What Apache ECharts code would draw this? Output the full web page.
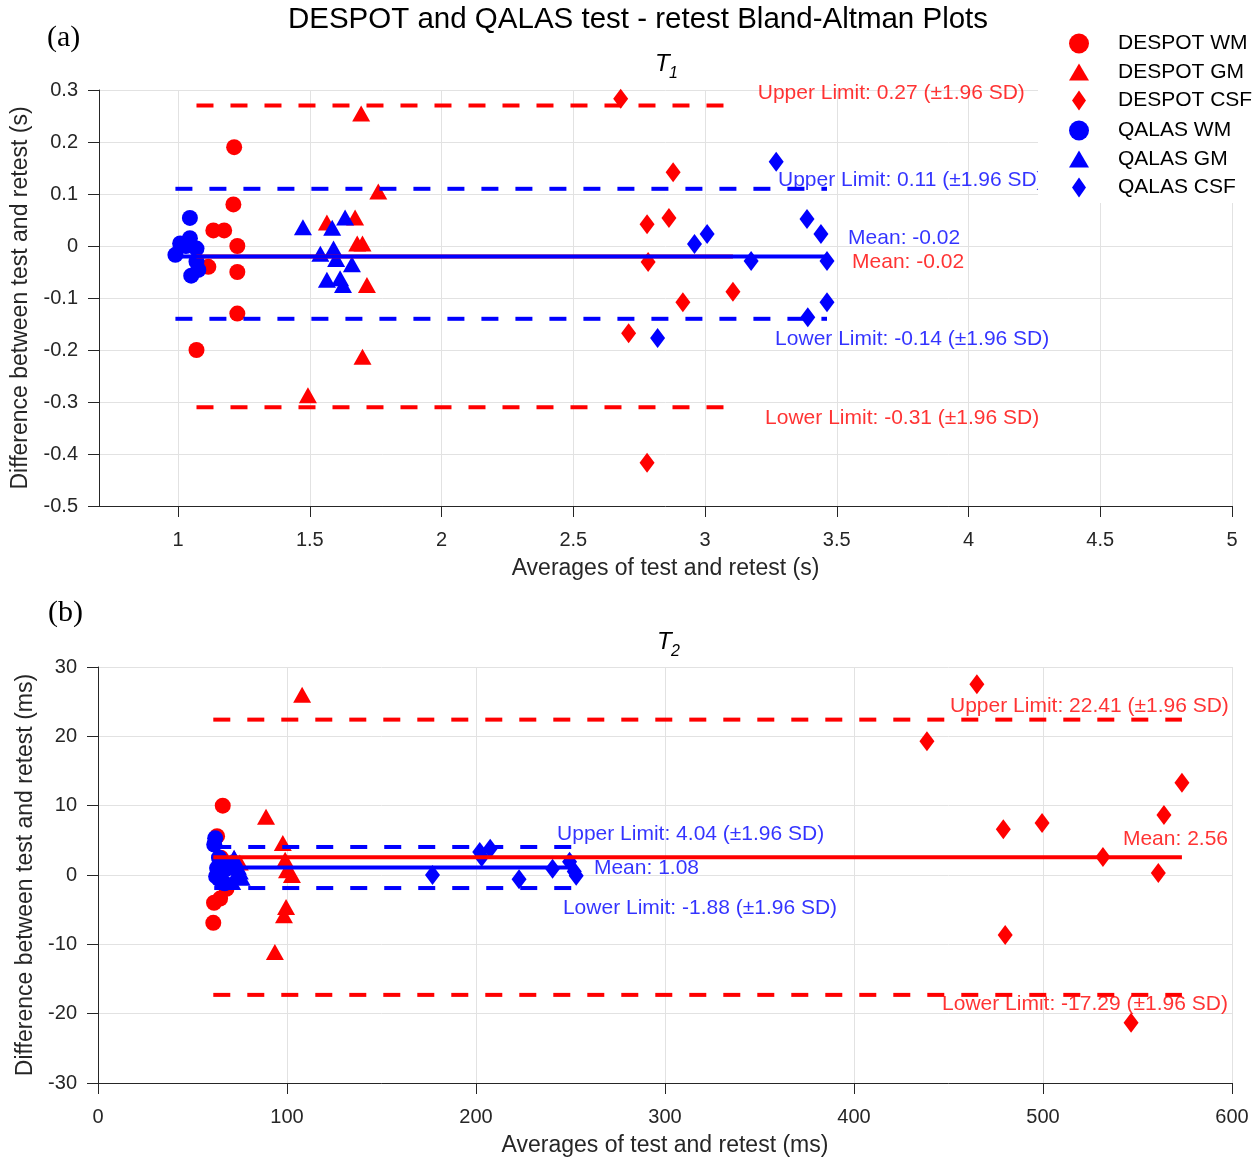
<!DOCTYPE html>
<html>
<head>
<meta charset="utf-8">
<script src="https://cdn.jsdelivr.net/npm/echarts@6/dist/echarts.min.js"></script>
<style>
  html, body { margin: 0; padding: 0; background: #ffffff; }
  #chart { width: 1258px; height: 1160px; }
</style>
</head>
<body>
<div id="chart"></div>
<script>
// ---- T1 (s): [average of test and retest, difference] ----
const t1DespotWM  = [[1.213, 0.19], [1.21, 0.08], [1.134, 0.03], [1.175, 0.03], [1.225, 0.0], [1.115, -0.04], [1.225, -0.05], [1.225, -0.13], [1.07, -0.2]];
const t1DespotGM  = [[1.76, 0.105], [1.565, 0.045], [1.672, 0.055], [1.68, 0.005], [1.70, 0.005], [1.717, -0.075], [1.695, 0.255], [1.70, -0.213], [1.493, -0.287]];
const t1DespotCSF = [[2.68, 0.283], [2.879, 0.142], [2.78, 0.042], [2.863, 0.054], [2.784, -0.031], [2.916, -0.108], [3.106, -0.088], [2.71, -0.168], [2.78, -0.417]];
const t1QalasWM   = [[1.045, 0.054], [1.045, 0.015], [1.008, 0.005], [1.03, 0.0], [1.07, -0.005], [0.99, -0.017], [1.07, -0.03], [1.077, -0.046], [1.05, -0.057]];
const t1QalasGM   = [[1.474, 0.036], [1.585, 0.035], [1.634, 0.055], [1.54, -0.015], [1.59, -0.005], [1.60, -0.025], [1.66, -0.035], [1.565, -0.065], [1.615, -0.062], [1.626, -0.075]];
const t1QalasCSF  = [[3.27, 0.162], [3.387, 0.052], [3.44, 0.023], [3.008, 0.023], [2.96, 0.004], [3.175, -0.029], [3.463, -0.029], [3.463, -0.108], [3.39, -0.137], [2.82, -0.177]];

// Bland-Altman statistics, T1
const t1DespotStats = { mean: -0.02, upper: 0.27, lower: -0.31 };
const t1QalasStats  = { mean: -0.02, upper: 0.11, lower: -0.14 };

// ---- T2 (ms): [average of test and retest, difference] ----
const t2DespotWM  = [[66, 10.0], [63, 5.6], [61.4, -4.0], [64.6, -3.4], [68, -2.0], [61, -6.9], [65, 2.5], [67, 1.2]];
const t2DespotGM  = [[88.9, 8.4], [97.8, 4.6], [99, 2.2], [100, 0.7], [102.6, 0.0], [99.5, -4.6], [98.4, -5.8], [93.6, -11.1], [108, 26.0], [72, 2.4], [75, 1.8]];
const t2DespotCSF = [[465, 27.5], [438.6, 19.3], [573.5, 13.3], [564, 8.65], [479, 6.6], [499.5, 7.5], [531.7, 2.6], [561, 0.3], [480, -8.65], [546.6, -21.3]];
const t2QalasWM   = [[62, 5.3], [61.5, 4.4], [64, 2.5], [66, 1.8], [63, 1.0], [65, 0.2], [68, 0.9], [64, -0.6], [67, -1.2], [62.5, -0.2]];
const t2QalasGM   = [[70, 1.8], [72, 2.5], [74, 1.2], [75, 0.5], [76, -0.4], [71, -1.0], [73, 0.0]];
const t2QalasCSF  = [[177, 0.0], [202, 3.3], [207.5, 3.8], [203, 2.6], [222.8, -0.6], [240.5, 0.9], [249.5, 1.9], [253, -0.1], [252, 0.5]];

// Bland-Altman statistics, T2
const t2DespotStats = { mean: 2.56, upper: 22.41, lower: -17.29 };
const t2QalasStats  = { mean: 1.08, upper: 4.04, lower: -1.88 };

// Axis ticks
const t1XTicks = [1, 1.5, 2, 2.5, 3, 3.5, 4, 4.5, 5];

// Series names
const NAMES = ['DESPOT WM', 'DESPOT GM', 'DESPOT CSF', 'QALAS WM', 'QALAS GM', 'QALAS CSF'];

const RED = '#ff0000';
const BLUE = '#0000ff';
const AXIS = '#262626';
const GRIDC = '#e2e2e2';
const FONT = '"Liberation Sans", Arial, Helvetica, sans-serif';

const SYMBOLS = {
  WM:  { symbol: 'circle', size: 16, icon: 'circle' },
  GM:  { symbol: 'triangle', size: [18, 16], icon: 'path://M10,0 L20,17 L0,17 Z' },
  CSF: { symbol: 'diamond', size: [15, 20], icon: 'path://M7,0 L14,10 L7,20 L0,10 Z' }
};
const KINDS = ['WM', 'GM', 'CSF'];

function scatter(name, data, color, kind, idx) {
  return {
    type: 'scatter', name, data,
    xAxisIndex: idx, yAxisIndex: idx,
    symbol: SYMBOLS[kind].symbol, symbolSize: SYMBOLS[kind].size,
    itemStyle: { color, opacity: 1 },
    emphasis: { disabled: true },
    animation: false
  };
}

// Horizontal limit line spanning the range of the group's averages
function statLine(groups, value, color, dashed, idx) {
  const xs = groups.flat().map(p => p[0]);
  return {
    type: 'line', silent: true, animation: false,
    xAxisIndex: idx, yAxisIndex: idx,
    data: [[Math.min(...xs), value], [Math.max(...xs), value]],
    symbol: 'none',
    lineStyle: { color, width: 4, type: dashed ? [17, 17] : 'solid', cap: 'butt' }
  };
}

function statLines(groups, stats, color, idx) {
  return [
    statLine(groups, stats.mean, color, false, idx),
    statLine(groups, stats.upper, color, true, idx),
    statLine(groups, stats.lower, color, true, idx)
  ];
}

// Text annotations: anchored at a data x and at the statistic's y, shifted by dy pixels
function notes(items, idx) {
  return {
    type: 'scatter', silent: true, animation: false,
    xAxisIndex: idx, yAxisIndex: idx,
    symbolSize: 0,
    data: items.map(n => ({
      value: [n.x, n.y],
      label: {
        show: true, position: 'right', distance: 0, offset: [0, n.dy],
        formatter: n.text, color: n.color, fontSize: 21, fontFamily: FONT
      }
    }))
  };
}

const t1Notes = [
  { text: 'Upper Limit: 0.27 (±1.96 SD)', x: 3.20, y: t1DespotStats.upper, dy: -12, color: RED },
  { text: 'Upper Limit: 0.11 (±1.96 SD)', x: 3.277, y: t1QalasStats.upper, dy: -9, color: BLUE },
  { text: 'Mean: -0.02', x: 3.543, y: t1QalasStats.mean, dy: -18, color: BLUE },
  { text: 'Mean: -0.02', x: 3.558, y: t1DespotStats.mean, dy: 6, color: RED },
  { text: 'Lower Limit: -0.14 (±1.96 SD)', x: 3.266, y: t1QalasStats.lower, dy: 20, color: BLUE },
  { text: 'Lower Limit: -0.31 (±1.96 SD)', x: 3.228, y: t1DespotStats.lower, dy: 11, color: RED }
];
const t2Notes = [
  { text: 'Upper Limit: 22.41 (±1.96 SD)', x: 450.8, y: t2DespotStats.upper, dy: -13, color: RED },
  { text: 'Mean: 2.56', x: 542.3, y: t2DespotStats.mean, dy: -18, color: RED },
  { text: 'Lower Limit: -17.29 (±1.96 SD)', x: 446.6, y: t2DespotStats.lower, dy: 9, color: RED },
  { text: 'Upper Limit: 4.04 (±1.96 SD)', x: 242.9, y: t2QalasStats.upper, dy: -13, color: BLUE },
  { text: 'Mean: 1.08', x: 262.4, y: t2QalasStats.mean, dy: 1, color: BLUE },
  { text: 'Lower Limit: -1.88 (±1.96 SD)', x: 246, y: t2QalasStats.lower, dy: 20, color: BLUE }
];

const TICK_FONT = { fontSize: 20, color: AXIS, fontFamily: FONT };
const NAME_FONT = { fontSize: 23, color: AXIS, fontFamily: FONT };

function xAxis(idx, min, max, extra, name) {
  return Object.assign({
    type: 'value', gridIndex: idx, min, max,
    axisLine: { show: true, onZero: false, lineStyle: { color: AXIS, width: 1 } },
    axisTick: { show: true, length: 11, lineStyle: { color: AXIS } },
    axisLabel: Object.assign({ margin: 24 }, TICK_FONT),
    splitLine: { show: true, lineStyle: { color: GRIDC, width: 1 } },
    name, nameLocation: 'middle', nameGap: 51,
    nameTextStyle: NAME_FONT
  }, extra);
}

function yAxis(idx, min, max, interval, name, gap) {
  return {
    type: 'value', gridIndex: idx, min, max, interval,
    axisLine: { show: true, onZero: false, lineStyle: { color: AXIS, width: 1 } },
    axisTick: { show: true, length: 11, lineStyle: { color: AXIS } },
    axisLabel: Object.assign({ margin: 21 }, TICK_FONT),
    splitLine: { show: true, lineStyle: { color: GRIDC, width: 1 } },
    name, nameLocation: 'middle', nameGap: gap,
    nameTextStyle: NAME_FONT
  };
}

const t1Despot = [t1DespotWM, t1DespotGM, t1DespotCSF];
const t1Qalas = [t1QalasWM, t1QalasGM, t1QalasCSF];
const t2Despot = [t2DespotWM, t2DespotGM, t2DespotCSF];
const t2Qalas = [t2QalasWM, t2QalasGM, t2QalasCSF];

const series = [
  // T1 panel
  scatter(NAMES[0], t1DespotWM, RED, 'WM', 0),
  scatter(NAMES[1], t1DespotGM, RED, 'GM', 0),
  scatter(NAMES[2], t1DespotCSF, RED, 'CSF', 0),
  ...statLines(t1Despot, t1DespotStats, RED, 0),
  ...statLines(t1Qalas, t1QalasStats, BLUE, 0),
  scatter(NAMES[3], t1QalasWM, BLUE, 'WM', 0),
  scatter(NAMES[4], t1QalasGM, BLUE, 'GM', 0),
  scatter(NAMES[5], t1QalasCSF, BLUE, 'CSF', 0),
  notes(t1Notes, 0),
  // T2 panel
  scatter(NAMES[0], t2DespotWM, RED, 'WM', 1),
  scatter(NAMES[1], t2DespotGM, RED, 'GM', 1),
  scatter(NAMES[2], t2DespotCSF, RED, 'CSF', 1),
  ...statLines(t2Despot, t2DespotStats, RED, 1),
  ...statLines(t2Qalas, t2QalasStats, BLUE, 1),
  scatter(NAMES[3], t2QalasWM, BLUE, 'WM', 1),
  scatter(NAMES[4], t2QalasGM, BLUE, 'GM', 1),
  scatter(NAMES[5], t2QalasCSF, BLUE, 'CSF', 1),
  notes(t2Notes, 1)
];

// Two stacked legend boxes (DESPOT group, QALAS group)
function legend(top, names) {
  return {
    orient: 'vertical', left: 1038, top,
    itemWidth: 20, itemHeight: 20, itemGap: 7.5,
    padding: [5, 8, 5, 31],
    backgroundColor: '#ffffff',
    textStyle: { fontSize: 21, color: '#000000', fontFamily: FONT, lineHeight: 20, padding: [0, 0, 0, 24] },
    selectedMode: false,
    data: names.map((n, i) => ({ name: n, icon: SYMBOLS[KINDS[i]].icon }))
  };
}

const option = {
  backgroundColor: '#ffffff',
  animation: false,
  grid: [
    { left: 99, top: 90, width: 1133, height: 416 },
    { left: 98, top: 667, width: 1134, height: 416 }
  ],
  xAxis: [
    xAxis(0, 0.7, 5, {
      axisTick: { show: true, length: 11, lineStyle: { color: AXIS }, customValues: t1XTicks },
      axisLabel: Object.assign({ margin: 24, customValues: t1XTicks }, TICK_FONT)
    }, 'Averages of test and retest (s)'),
    xAxis(1, 0, 600, { interval: 100 }, 'Averages of test and retest (ms)')
  ],
  yAxis: [
    yAxis(0, -0.5, 0.3, 0.1, 'Difference between test and retest (s)', 67),
    yAxis(1, -30, 30, 10, 'Difference between test and retest (ms)', 61)
  ],
  legend: [
    legend(28, NAMES.slice(0, 3)),
    legend(115, NAMES.slice(3))
  ],
  graphic: [
    { type: 'text', x: 638, y: 20, z: 10, style: { text: 'DESPOT and QALAS test - retest Bland-Altman Plots', fontSize: 29.5, fill: '#000000', fontFamily: FONT, align: 'center', verticalAlign: 'middle' } },
    { type: 'text', x: 47, y: 23, z: 10, style: { text: '(a)', fontSize: 30, fill: '#000000', fontFamily: '"Liberation Serif", "Times New Roman", serif' } },
    { type: 'text', x: 48, y: 598, z: 10, style: { text: '(b)', fontSize: 30, fill: '#000000', fontFamily: '"Liberation Serif", "Times New Roman", serif' } },
    { type: 'text', x: 655, y: 52, z: 10, style: { text: 'T', fontSize: 24, fontStyle: 'italic', fill: '#000000', fontFamily: FONT } },
    { type: 'text', x: 669, y: 66, z: 10, style: { text: '1', fontSize: 16, fontStyle: 'italic', fill: '#000000', fontFamily: FONT } },
    { type: 'text', x: 657, y: 630, z: 10, style: { text: 'T', fontSize: 24, fontStyle: 'italic', fill: '#000000', fontFamily: FONT } },
    { type: 'text', x: 671, y: 644, z: 10, style: { text: '2', fontSize: 16, fontStyle: 'italic', fill: '#000000', fontFamily: FONT } }
  ],
  series
};

const chart = echarts.init(document.getElementById('chart'), null, { renderer: 'canvas' });
chart.setOption(option);
</script>
</body>
</html>
